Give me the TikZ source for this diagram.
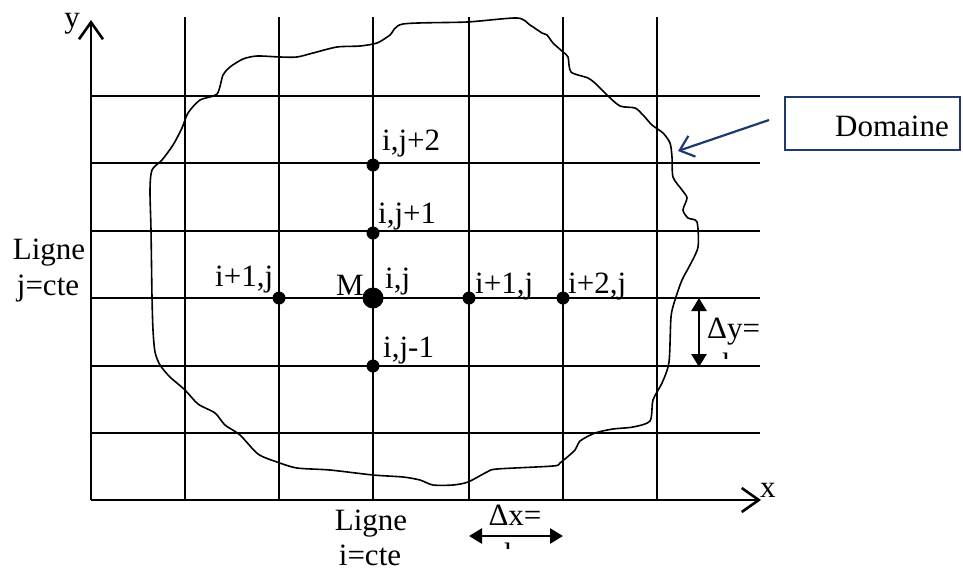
\documentclass[tikz,border=0pt]{standalone}
\usepackage{fontspec}
\setmainfont{Liberation Serif}
\usetikzlibrary{arrows.meta}
\definecolor{navy}{RGB}{31,56,110}
\begin{document}
\begin{tikzpicture}[x=1pt,y=-1pt,
  lbl/.style={inner sep=0pt,anchor=base west,font=\fontsize{31}{34}\selectfont},
  lblc/.style={inner sep=0pt,anchor=base,font=\fontsize{31}{34}\selectfont},
  gridline/.style={line width=2pt},
  axis/.style={line width=2.6pt,-{Straight Barb[length=17pt,width=24pt]}},
  ptdot/.style={circle,fill=black,inner sep=0pt,minimum size=13pt},
  bigdot/.style={circle,fill=black,inner sep=0pt,minimum size=21pt},
  dimarrow/.style={line width=2.6pt,{Triangle[length=13pt,width=15pt]}-{Triangle[length=13pt,width=15pt]}},
  domcurve/.style={line width=1.6pt},
  dombox/.style={draw=navy,line width=2pt,inner sep=0pt,anchor=north west,minimum width=175pt,minimum height=53pt},
  domarrow/.style={draw=navy,line width=2.2pt,-{Straight Barb[length=13pt,width=22pt]}}]
\useasboundingbox (0,0) rectangle (963,571);

% grid
\foreach \yy in {96,163,231,298,366,433}{
  \coordinate (hl\yy) at (91,\yy); \coordinate (hr\yy) at (760,\yy);
  \draw[gridline] (hl\yy) -- (hr\yy);}
\foreach \xx in {185,279,373,469,563,657}{
  \coordinate (vt\xx) at (\xx,17); \coordinate (vb\xx) at (\xx,500);
  \draw[gridline] (vt\xx) -- (vb\xx);}

% axes
\coordinate (O) at (91,500);
\coordinate (ytip) at (91,20);
\coordinate (xtip) at (761,500);
\draw[axis] (O) -- (ytip);
\draw[axis] (O) -- (xtip);
\node[lblc] (ylab) at (72,27) {y};
\node[lbl] (xlab) at (760,497) {x};

% domain
\draw[domcurve] plot[smooth cycle, tension=0.45] coordinates {
(150,190) (152,170) (162,160) (173,145) (182,128) (188,113) (200,100) (217,94)
(223,75) (230,67) (243,59) (257,56) (280,57) (297,57) (313,53) (337,47) (360,46)
(377,43) (390,35) (403,24) (467,22) (517,18) (530,25) (542,33) (547,35) (553,43)
(563,52) (568,57) (571,72) (588,78) (597,85) (607,95) (620,106) (635,108) (643,115)
(652,125) (663,133) (670,143) (672,157) (673,177) (682,190) (687,198) (683,210)
(688,218) (697,222) (698,247) (690,265) (682,280) (675,300) (671,317) (669,362)
(662,383) (653,400) (650,421) (633,427) (613,429) (595,433) (580,441) (575,450)
(560,463) (553,466) (497,469) (487,472) (468,482) (453,485) (433,485) (420,480)
(403,477) (373,475) (330,470) (297,468) (277,462) (258,454) (240,435) (225,425)
(215,413) (198,404) (185,390) (170,377) (160,365) (155,352) (153,330) (152,297)
(151,230)};

% points
\node[ptdot] (p1) at (373,165) {};
\node[ptdot] (p2) at (373,233) {};
\node[bigdot] (M) at (373,298) {};
\node[ptdot] (p3) at (279,298) {};
\node[ptdot] (p4) at (469,298) {};
\node[ptdot] (p5) at (563,298) {};
\node[ptdot] (p6) at (373,366) {};

% labels
\node[lbl] (l1) at (382,150) {i,j+2};
\node[lbl] (l2) at (378,223) {i,j+1};
\node[lbl] (lM) at (336,295) {M};
\node[lbl] (l0) at (385,288) {i,j};
\node[lbl] (l3) at (215,286) {i+1,j};
\node[lbl] (l4) at (475,293) {i+1,j};
\node[lbl] (l5) at (568,293) {i+2,j};
\node[lbl] (l6) at (383,357) {i,j-1};

\node[lblc] (lg1) at (49,259) {Ligne};
\node[lblc] (lg2) at (48,295) {j=cte};
\node[lblc] (lg3) at (371,530) {Ligne};
\node[lblc] (lg4) at (370,565) {i=cte};

% dimension arrows
\coordinate (dyt) at (699,298);
\coordinate (dyb) at (699,367);
\draw[dimarrow] (dyt) -- (dyb);
\node[lbl] (dylab) at (707,338) {Δy=};
\coordinate (dxl) at (469,536);
\coordinate (dxr) at (563,536);
\draw[dimarrow] (dxl) -- (dxr);
\node[lblc] (dxlab) at (515,525) {Δx=};
\begin{scope}
  \clip (700,340) rectangle (780,358);
  \node[lblc] (dyfrag) at (730,374) {h};
\end{scope}
\begin{scope}
  \clip (480,539) rectangle (560,548);
  \node[lblc] (dxfrag) at (512,564) {h};
\end{scope}

% Domaine box
\node[dombox] (dom) at (784,96) {};
\node[lblc] (domtxt) at (892,136) {Domaine};
\coordinate (arrS) at (769,120);
\coordinate (arrE) at (678,151);
\draw[domarrow] (arrS) -- (arrE);
\end{tikzpicture}
\end{document}
